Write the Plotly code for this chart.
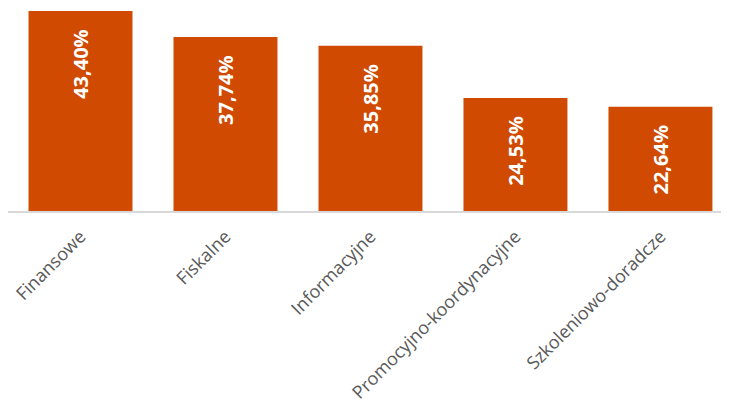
import plotly.graph_objects as go

categories = ["Finansowe", "Fiskalne", "Informacyjne", "Promocyjno-koordynacyjne", "Szkoleniowo-doradcze"]
values = [43.40, 37.74, 35.85, 24.53, 22.64]
labels = ["43,40%", "37,74%", "35,85%", "24,53%", "22,64%"]

pad = "\u00a0\u00a0\u2005"
fig = go.Figure(go.Bar(
    x=categories, y=values, text=[l + pad for l in labels],
    marker=dict(color="#D04A02", line=dict(width=0)),
    textposition="inside", insidetextanchor="end", textangle=-90,
    textfont=dict(family="Open Sans", size=20, color="white", weight="bold"),
    cliponaxis=False,
))
fig.update_layout(
    width=729, height=403,
    margin=dict(l=0, r=0, t=0, b=200, autoexpand=False),
    plot_bgcolor="white", paper_bgcolor="white",
    bargap=0.283, showlegend=False,
    xaxis=dict(range=[-0.5, 4.528], tickangle=-45, showline=True, linecolor="#D9D9D9", linewidth=2,
               automargin=False, ticklabelstandoff=6,
               tickfont=dict(family="Open Sans", size=18, color="#595959"), ticks="", showgrid=False),
    yaxis=dict(range=[0, 44.05], visible=False, showgrid=False, zeroline=False, automargin=False),
)
fig.write_html("out.html")
